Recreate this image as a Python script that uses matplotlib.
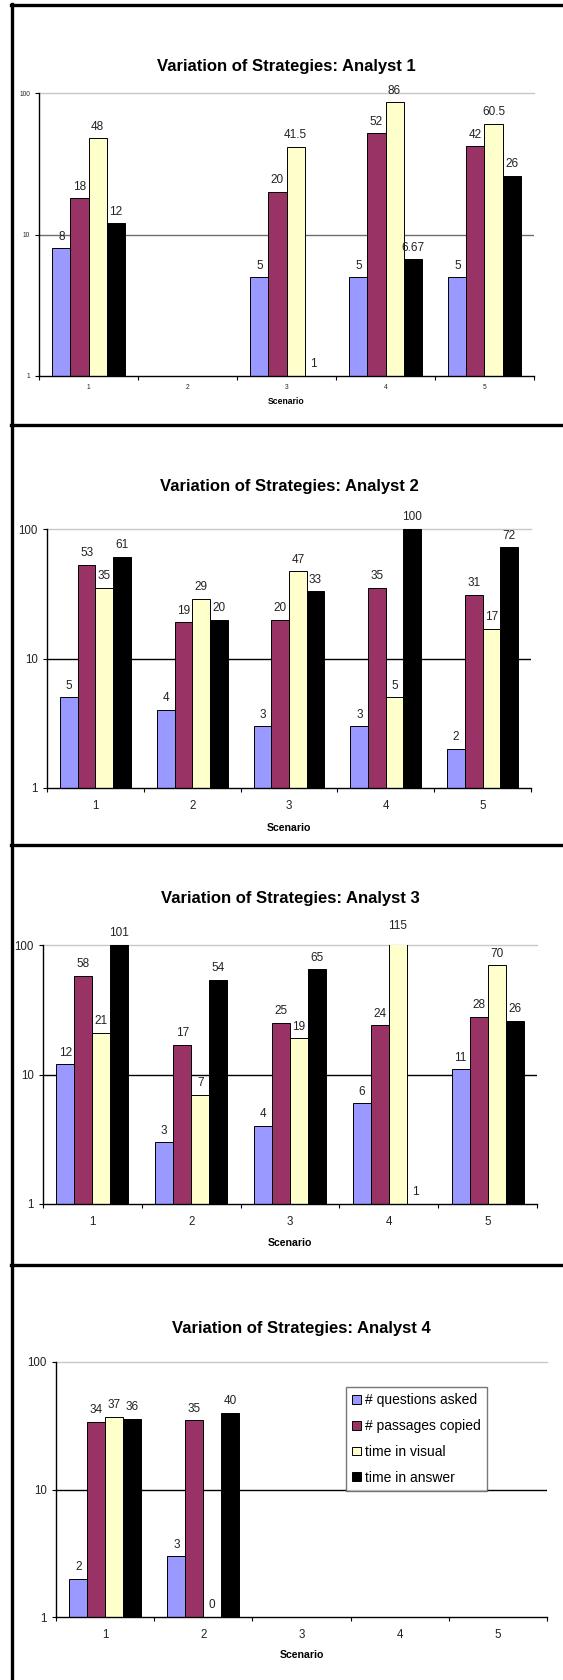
import matplotlib
matplotlib.use("Agg")
import matplotlib.pyplot as plt
from matplotlib.lines import Line2D
from matplotlib.patches import Patch

plt.rcParams["font.family"] = ["Liberation Sans", "DejaVu Sans"]

# ------------------------------------------------------------------ data
scenarios = ["1", "2", "3", "4", "5"]
series_names = ["# questions asked", "# passages copied", "time in visual", "time in answer"]
series_colors = ["#9999FF", "#993366", "#FFFFCC", "#000000"]

# None = no data for that scenario
a1_questions = [8, None, 5, 5, 5]
a1_passages = [18, None, 20, 52, 42]
a1_visual = [48, None, 41.5, 86, 60.5]
a1_answer = [12, None, 1, 6.67, 26]

a2_questions = [5, 4, 3, 3, 2]
a2_passages = [53, 19, 20, 35, 31]
a2_visual = [35, 29, 47, 5, 17]
a2_answer = [61, 20, 33, 100, 72]

a3_questions = [12, 3, 4, 6, 11]
a3_passages = [58, 17, 25, 24, 28]
a3_visual = [21, 7, 19, 115, 70]
a3_answer = [101, 54, 65, 1, 26]

a4_questions = [2, 3, None, None, None]
a4_passages = [34, 35, None, None, None]
a4_visual = [37, 0, None, None, None]
a4_answer = [36, 40, None, None, None]

analysts = [
    ("Variation of Strategies: Analyst 1", [a1_questions, a1_passages, a1_visual, a1_answer]),
    ("Variation of Strategies: Analyst 2", [a2_questions, a2_passages, a2_visual, a2_answer]),
    ("Variation of Strategies: Analyst 3", [a3_questions, a3_passages, a3_visual, a3_answer]),
    ("Variation of Strategies: Analyst 4", [a4_questions, a4_passages, a4_visual, a4_answer]),
]

# ---------------------------------------------------------------- layout
W, H = 563, 1680
fig = plt.figure(figsize=(W / 100, H / 100), dpi=100)

# (left, right, top, bottom) of plot area in pixels, title y, scenario y, small-font flag
panels = [
    (39, 534, 93, 376, 66, 401, True),
    (47, 531, 529, 788, 486, 828, False),
    (43, 537, 945, 1204, 899, 1243, False),
    (56, 547, 1362, 1617, 1328, 1655, False),
]

BAR_W = 0.1825


def fx(x):
    return x / W


def fy(y):
    return 1 - y / H


for (title, series), (l, r, t, b, ty, sy, small) in zip(analysts, panels):
    ax = fig.add_axes([fx(l), fy(b), (r - l) / W, (b - t) / H])
    ax.set_yscale("log")
    ax.set_ylim(1, 100)
    ax.set_xlim(-0.5, len(scenarios) - 0.5)

    # gridlines
    ax.axhline(10, color="#6e6e6e" if small else "black", lw=1.0, zorder=0)
    ax.axhline(100, color="#c8c8c8", lw=1.0, zorder=0, clip_on=False)

    for si, vals in enumerate(series):
        off = (si - 1.5) * BAR_W
        for ci, v in enumerate(vals):
            if v is None:
                continue
            x = ci + off
            top = max(v, 1)
            if v > 1:
                ax.bar(x, top - 1, bottom=1, width=BAR_W, color=series_colors[si],
                       edgecolor="black", linewidth=0.7, zorder=2)
            ax.annotate(f"{v:g}", (x, top), xytext=(0, 4), textcoords="offset points",
                        ha="center", va="bottom", fontsize=8.5, color="#222222",
                        annotation_clip=False, zorder=3)

    for s in ["top", "right"]:
        ax.spines[s].set_visible(False)
    ax.spines["left"].set_linewidth(1.0)
    ax.spines["bottom"].set_linewidth(1.0)

    ax.set_yticks([1, 10, 100])
    ax.set_yticklabels(["1", "10", "100"])
    ax.minorticks_off()
    ax.set_xticks(range(len(scenarios)))
    ax.set_xticklabels(scenarios)
    ax.set_xticks([i - 0.5 for i in range(len(scenarios) + 1)], minor=True)
    ax.tick_params(axis="x", which="major", length=0, pad=5.5 if small else 8.5,
                   labelsize=4.8 if small else 8.3, colors="#222222")
    ax.tick_params(axis="x", which="minor", length=3, width=0.8, direction="out")
    ax.tick_params(axis="y", which="major", length=3, width=0.8, pad=3.5,
                   labelsize=4.8 if small else 8.3, colors="black", labelcolor="#222222")

    fig.text(fx((l + r) / 2), fy(ty), title, ha="center", va="center",
             fontsize=12, fontweight="bold")
    fig.text(fx((l + r) / 2), fy(sy), "Scenario", ha="center", va="center",
             fontsize=6.2 if small else 7.6, fontweight="bold")

    if title.endswith("4"):
        handles = [Patch(facecolor=c, edgecolor="black", linewidth=0.7) for c in series_colors]
        leg = fig.legend(handles, series_names, loc="upper left",
                         bbox_to_anchor=(fx(346), fy(1387)), fontsize=10,
                         frameon=True, fancybox=False, edgecolor="#555555",
                         handlelength=0.6, handleheight=0.6, handletextpad=0.3,
                         labelspacing=0.85, borderpad=0.45, borderaxespad=0)
        leg.get_frame().set_linewidth(1.0)

# panel frames
for yy in [5, 425, 845, 1265]:
    fig.add_artist(Line2D([fx(11), 1], [fy(yy), fy(yy)], color="black", lw=2.4,
                          transform=fig.transFigure))
fig.add_artist(Line2D([fx(12), fx(12)], [fy(4), 0], color="black", lw=2.4,
                      transform=fig.transFigure))

fig.savefig("out.png", dpi=100)
